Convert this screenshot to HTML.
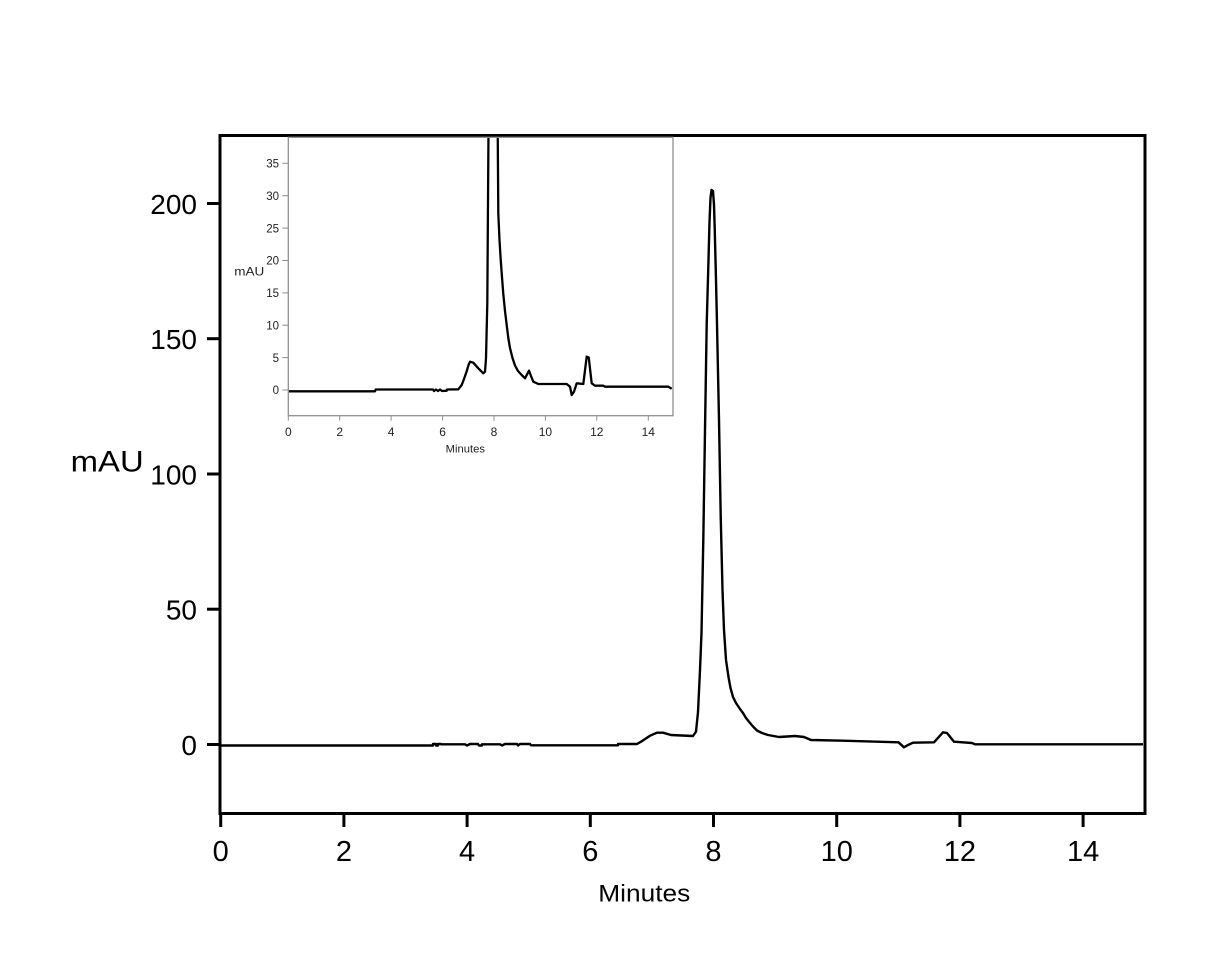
<!DOCTYPE html>
<html>
<head>
<meta charset="utf-8">
<style>
  html, body { margin: 0; padding: 0; background: #ffffff; }
  svg { display: block; }
  text { font-family: "Liberation Sans", Arial, sans-serif; }
</style>
</head>
<body>
<svg width="1215" height="980" viewBox="0 0 1215 980" xmlns="http://www.w3.org/2000/svg">
  <rect x="0" y="0" width="1215" height="980" fill="#ffffff"/>

  <!-- Main curve -->
  <path fill="none" stroke="#000" stroke-width="2.4" stroke-linejoin="round"
    d="M220,745.5 L433,745.5 L433,744 L436,744 L436,745.5 L438,745.5 L438,744 L441,744 L441,744.3 L465,744.3 L467,745.5 L470,744 L478,744 L479,745.5 L482,745.5 L482,744.3 L500,744.3 L502,745.5 L505,744 L517,744 L518,745.5 L520,744 L530,744 L531,745.3 L540,745.3 L618,745.3 L618,744 L637,744 L641,741.7 L650,735.7 L657,732.7 L663,732.7 L671,735 L693,736 L696,731.7 L698,712 L700,670 L701.5,633 L703.3,540 L705,430 L706.7,324 L708.5,260 L709.5,222 L710.5,198 L711.5,190 L713,191 L714,205 L714.7,228 L716,280 L717,324 L719,420 L720.7,516 L722.5,590 L724,630 L726,660 L728.5,677 L730.5,688 L733,697 L736,703 L740,709 L743,713 L746,718 L750,723 L753.5,727 L757,730.5 L762,733 L768,735 L779,737 L795,736 L804,737 L811,740 L843,740.7 L898.5,742.3 L904,747.3 L908,745 L913,742.7 L934,742.3 L943,732.3 L947,733 L954,741.7 L972,743 L975,744.3 L1143,744.3"/>

  <!-- Main frame -->
  <rect x="220" y="135.5" width="925" height="678" fill="none" stroke="#000" stroke-width="3"/>

  <!-- Main y ticks -->
  <g stroke="#000" stroke-width="3">
    <line x1="207" y1="744.5" x2="220" y2="744.5"/>
    <line x1="207" y1="609.2" x2="220" y2="609.2"/>
    <line x1="207" y1="474" x2="220" y2="474"/>
    <line x1="207" y1="338.7" x2="220" y2="338.7"/>
    <line x1="207" y1="203.5" x2="220" y2="203.5"/>
  </g>
  <g font-size="28" fill="#000" text-anchor="end">
    <text x="197" y="755">0</text>
    <text x="197" y="619.7">50</text>
    <text x="197" y="484.3">100</text>
    <text x="197" y="349.2">150</text>
    <text x="197" y="214">200</text>
  </g>
  <text x="70.7" y="471.5" font-size="30" textLength="73" lengthAdjust="spacingAndGlyphs" fill="#000">mAU</text>

  <!-- Main x ticks -->
  <g stroke="#000" stroke-width="3">
    <line x1="220.7" y1="813" x2="220.7" y2="827"/>
    <line x1="343.9" y1="813" x2="343.9" y2="827"/>
    <line x1="467.1" y1="813" x2="467.1" y2="827"/>
    <line x1="590.3" y1="813" x2="590.3" y2="827"/>
    <line x1="713.5" y1="813" x2="713.5" y2="827"/>
    <line x1="836.7" y1="813" x2="836.7" y2="827"/>
    <line x1="959.9" y1="813" x2="959.9" y2="827"/>
    <line x1="1083.1" y1="813" x2="1083.1" y2="827"/>
  </g>
  <g font-size="29" fill="#000" text-anchor="middle">
    <text x="220.7" y="861">0</text>
    <text x="343.9" y="861">2</text>
    <text x="467.1" y="861">4</text>
    <text x="590.3" y="861">6</text>
    <text x="713.5" y="861">8</text>
    <text x="836.7" y="861">10</text>
    <text x="959.9" y="861">12</text>
    <text x="1083.1" y="861">14</text>
  </g>
  <text x="598.3" y="901.7" font-size="24" textLength="92" lengthAdjust="spacingAndGlyphs" fill="#000">Minutes</text>

  <!-- Inset -->
  <rect x="288.3" y="137.3" width="384.7" height="278.4" fill="#ffffff" stroke="none"/>
  <defs>
    <clipPath id="insetClip">
      <rect x="288.3" y="137.3" width="384.7" height="278.4"/>
    </clipPath>
  </defs>
  <path clip-path="url(#insetClip)" fill="none" stroke="#000" stroke-width="2.3" stroke-linejoin="round"
    d="M288.3,391.3 L375,391.3 L375.7,389.5 L433,389.5 L434,391 L436,389.5 L438,391 L440,389.5 L442,391 L446.7,390.7 L447,389.5 L458.3,389.3 L461.7,385 L464,379 L466.7,371.3 L468.5,365 L470,361.7 L473.3,362.7 L478.3,368.3 L483.3,373.3 L485,371.7 L486,358.3 L487.3,303.3 L488.5,130 L497.7,130 L498.3,213.3 L499.5,240 L500.6,258 L501.7,273.3 L503.3,294 L505,311 L506.7,325 L508.3,338 L510,348 L512.5,358 L515,365.5 L518,371 L521.7,375 L525,378.3 L529,370.7 L531,376 L533.3,381.7 L538.3,384 L566.7,384 L570,386.7 L571.7,395 L574,391.7 L576.7,383.3 L583.3,384 L586.7,356.7 L588.7,357.3 L591.7,383.3 L595,385.7 L603.3,385.7 L605,386.7 L668.3,386.7 L671.7,388.7"/>
  <rect x="288.3" y="137.3" width="384.7" height="278.4" fill="none" stroke="#8f8f8f" stroke-width="1.3"/>

  <!-- Inset y ticks -->
  <g stroke="#8f8f8f" stroke-width="1">
    <line x1="282.3" y1="390" x2="288.3" y2="390"/>
    <line x1="282.3" y1="357.6" x2="288.3" y2="357.6"/>
    <line x1="282.3" y1="325.2" x2="288.3" y2="325.2"/>
    <line x1="282.3" y1="292.9" x2="288.3" y2="292.9"/>
    <line x1="282.3" y1="260.5" x2="288.3" y2="260.5"/>
    <line x1="282.3" y1="228.1" x2="288.3" y2="228.1"/>
    <line x1="282.3" y1="195.7" x2="288.3" y2="195.7"/>
    <line x1="282.3" y1="163.3" x2="288.3" y2="163.3"/>
  </g>
  <g font-size="11.5" fill="#222" text-anchor="end">
    <text x="279" y="394.2">0</text>
    <text x="279" y="361.8">5</text>
    <text x="279" y="329.4">10</text>
    <text x="279" y="297.1">15</text>
    <text x="279" y="264.7">20</text>
    <text x="279" y="232.3">25</text>
    <text x="279" y="199.9">30</text>
    <text x="279" y="167.5">35</text>
  </g>
  <text x="234.3" y="275.7" font-size="12" textLength="30" lengthAdjust="spacingAndGlyphs" fill="#222">mAU</text>

  <!-- Inset x ticks -->
  <g stroke="#8f8f8f" stroke-width="1">
    <line x1="288.3" y1="415.7" x2="288.3" y2="420.7"/>
    <line x1="339.7" y1="415.7" x2="339.7" y2="420.7"/>
    <line x1="391.1" y1="415.7" x2="391.1" y2="420.7"/>
    <line x1="442.6" y1="415.7" x2="442.6" y2="420.7"/>
    <line x1="494" y1="415.7" x2="494" y2="420.7"/>
    <line x1="545.4" y1="415.7" x2="545.4" y2="420.7"/>
    <line x1="596.8" y1="415.7" x2="596.8" y2="420.7"/>
    <line x1="648.3" y1="415.7" x2="648.3" y2="420.7"/>
  </g>
  <g font-size="12" fill="#222" text-anchor="middle">
    <text x="288.3" y="436">0</text>
    <text x="339.7" y="436">2</text>
    <text x="391.1" y="436">4</text>
    <text x="442.6" y="436">6</text>
    <text x="494" y="436">8</text>
    <text x="545.4" y="436">10</text>
    <text x="596.8" y="436">12</text>
    <text x="648.3" y="436">14</text>
  </g>
  <text x="445.7" y="452.7" font-size="11" textLength="39.3" lengthAdjust="spacingAndGlyphs" fill="#222">Minutes</text>
</svg>
</body>
</html>
